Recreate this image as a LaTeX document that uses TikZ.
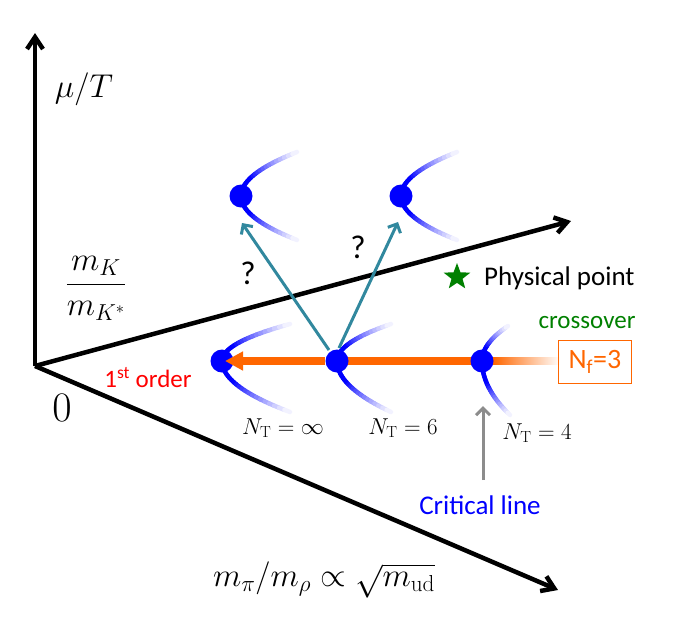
\RequirePackage{fix-cm}
\documentclass[tikz,border=0pt]{standalone}
\usepackage{fontspec}
\newfontfamily\calib{Carlito}
\usetikzlibrary{arrows.meta,shapes.geometric,calc}
\definecolor{ora}{RGB}{255,102,0}
\definecolor{tealc}{RGB}{49,136,158}
\definecolor{grn}{RGB}{0,128,0}
\definecolor{gry}{RGB}{140,140,140}
\newcommand\branch[4]{%
  \foreach \i in {1,...,24}{%
    \pgfmathsetmacro\sa{(\i-1)/24}%
    \pgfmathsetmacro\sb{\i/24}%
    \pgfmathsetmacro\cc{\sb<0.45 ? 100 : 100-95*(\sb-0.45)/0.55}%
    \draw[line width=4.5pt, color=blue!\cc!white, line cap=round]
      ({#1+(#3)*\sa*\sa}, {#2+(#4)*\sa}) -- ({#1+(#3)*\sb*\sb}, {#2+(#4)*\sb});
  }}
\tikzset{
  axis/.style={line width=4.5pt, -{Straight Barb[length=12pt,width=16pt]}},
  dot/.style={circle, fill=blue, minimum size=23pt, inner sep=0pt},
  tarrow/.style={tealc, line width=3pt, -{Straight Barb[length=7pt,width=14pt]}},
  garrow/.style={gry, line width=3pt, -{Straight Barb[length=7pt,width=14pt]}},
  mathlbl/.style={inner sep=0pt, font=\fontsize{33}{36}\selectfont},
  ntlbl/.style={inner sep=0pt, font=\fontsize{23}{26}\selectfont},
  sanslbl/.style={inner sep=0pt, font=\calib\fontsize{27}{30}\selectfont},
}
\begin{document}
\begin{tikzpicture}[x={(1pt,0pt)}, y={(0pt,-1pt)}]
\useasboundingbox (0,0) rectangle (681,625);
% axes
\coordinate (O) at (35,366);
\coordinate (Y) at (35,33);
\coordinate (X1) at (571,221);
\coordinate (X2) at (558,590);
\draw[axis] (O) -- (Y);
\draw[axis] (O) -- (X1);
\draw[axis] (O) -- (X2);
\node[mathlbl] (lmu) at (84,89) {$\mu/T$};
\node[mathlbl] (lmk) at (96,288) {$\displaystyle\frac{m_K}{m_{K^*}}$};
\node[inner sep=0pt, font=\fontsize{42}{44}\selectfont] (lzero) at (62,408) {$0$};
\node[mathlbl] (lmpi) at (324,580) {$m_\pi/m_\rho\propto\sqrt{m_{\mathrm{ud}}}$};
% positions of critical points
\coordinate (p1) at (222,361);
\coordinate (p2) at (337,361);
\coordinate (p3) at (482,361);
\coordinate (q1) at (241,196);
\coordinate (q2) at (401,196);
% critical curves
\branch{241}{196}{56}{-44}\branch{241}{196}{56}{44}
\branch{401}{196}{56}{-44}\branch{401}{196}{56}{44}
\branch{222}{361}{68}{-37}\branch{222}{361}{68}{51}
\branch{337}{361}{54}{-37}\branch{337}{361}{54}{51}
\branch{482}{361}{26}{-35}\branch{482}{361}{28}{54}
% orange line
\coordinate (fadeL) at (493,361);
\draw[ora, line width=7.5pt] (fadeL) -- (p2);
\shade[left color=ora, right color=white] (493,357.25) rectangle (560,364.75);
\node[draw=ora, line width=1.3pt, minimum width=73pt, minimum height=43pt, inner sep=0pt,
      text=ora, font=\calib\fontsize{28}{30}\selectfont] (nf) at (595,362) {N\textsubscript{f}=3};
\node[sanslbl, text=grn, font=\calib\fontsize{25}{28}\selectfont] (cross) at (587,323) {crossover};
% dots
\node[dot] (d1) at (p1) {};
\node[dot] (d2) at (p2) {};
\node[dot] (d3) at (p3) {};
\node[dot] (u1) at (q1) {};
\node[dot] (u2) at (q2) {};
\coordinate (tip1) at (225,361);
\draw[ora, line width=7.5pt, -{Triangle[length=18pt,width=18pt]}] (d2.west) -- (tip1);
% teal arrows
\coordinate (a1s) at (329,350);
\coordinate (a1e) at (242,223);
\coordinate (a2s) at (339,348);
\coordinate (a2e) at (398,222);
\draw[tarrow] (a1s) -- (a1e);
\draw[tarrow] (a2s) -- (a2e);
\node[sanslbl, font=\calib\fontsize{33}{36}\selectfont] (qm1) at (248,273) {?};
\node[sanslbl, font=\calib\fontsize{33}{36}\selectfont] (qm2) at (358,247) {?};
% physical point
\node[star, star points=5, star point ratio=2.4, fill=grn, minimum size=28pt, inner sep=0pt] (st) at (457,277) {};
\node[sanslbl, anchor=west] (phys) at (484,278) {Physical point};
% labels
\node[sanslbl, text=red, font=\calib\fontsize{25}{28}\selectfont] (first) at (148,378) {1\textsuperscript{st} order};
\node[ntlbl] (nt1) at (283,428) {$N_{\mathrm{T}}=\infty$};
\node[ntlbl] (nt2) at (403,428) {$N_{\mathrm{T}}=6$};
\node[ntlbl] (nt3) at (537,433) {$N_{\mathrm{T}}=4$};
% critical line
\node[sanslbl, text=blue] (crit) at (480,505) {Critical line};
\coordinate (g1) at (483,480);
\coordinate (g2) at (483,406);
\draw[garrow] (g1) -- (g2);
\end{tikzpicture}
\end{document}
